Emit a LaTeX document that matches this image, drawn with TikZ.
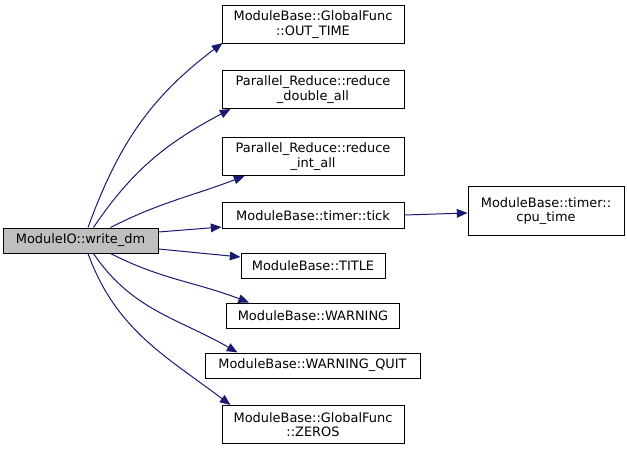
\documentclass[tikz,border=0pt]{standalone}
\usepackage{fontspec}
\setmainfont{DejaVu Sans}
\usetikzlibrary{arrows.meta,calc}
\definecolor{edgeblue}{HTML}{191970}
\definecolor{maingray}{HTML}{BFBFBF}
\tikzset{
  fn/.style={draw=black, line width=0.75pt, fill=white, inner sep=0pt, align=center,
    font=\fontsize{9.7pt}{10.8pt}\selectfont},
  edge/.style={draw=edgeblue, line width=0.75pt, -{Triangle[length=8pt,width=6.5pt]}},
}
\begin{document}
\begin{tikzpicture}[x=0.75pt,y=-0.75pt]
\useasboundingbox (0,0) rectangle (627,452);
\node[fn, fill=maingray, minimum width=155*0.75pt, minimum height=25*0.75pt] (main) at (80.5,240.5) {ModuleIO::write\_dm};
\node[fn, minimum width=182*0.75pt, minimum height=38*0.75pt] (outtime) at (313,24.5) {ModuleBase::GlobalFunc\\::OUT\_TIME};
\node[fn, minimum width=182*0.75pt, minimum height=38*0.75pt] (rdouble) at (313,89.5) {Parallel\_Reduce::reduce\\\_double\_all};
\node[fn, minimum width=182*0.75pt, minimum height=38*0.75pt] (rint) at (313,156.5) {Parallel\_Reduce::reduce\\\_int\_all};
\node[fn, minimum width=182*0.75pt, minimum height=25*0.75pt] (tick) at (313,215.5) {ModuleBase::timer::tick};
\node[fn, minimum width=144*0.75pt, minimum height=25*0.75pt] (title) at (313,265.5) {ModuleBase::TITLE};
\node[fn, minimum width=173*0.75pt, minimum height=25*0.75pt] (warning) at (313,315.5) {ModuleBase::WARNING};
\node[fn, minimum width=215*0.75pt, minimum height=25*0.75pt] (wquit) at (312.5,365.5) {ModuleBase::WARNING\_QUIT};
\node[fn, minimum width=182*0.75pt, minimum height=38*0.75pt] (zeros) at (313,424.5) {ModuleBase::GlobalFunc\\::ZEROS};
\node[fn, minimum width=156*0.75pt, minimum height=48*0.75pt] (cpu) at (546,211) {ModuleBase::timer::\\cpu\_time};
\draw[edge] ($(main.north)+(7.5,0)$) to[out=70, in=217] ($(outtime.south west)+(1,-1)$);
\draw[edge] ($(main.north)+(13,0)$) to[out=56, in=208] ($(rdouble.south west)+(9,0)$);
\draw[edge] ($(main.north)+(30,0)$) to[out=27, in=201] ($(rint.south west)+(23,0)$);
\draw[edge] (main.east |- 0,232) -- (tick.west |- 0,227);
\draw[edge] (main.east |- 0,249) -- (title.west |- 0,257);
\draw[edge] ($(main.south)+(30,0)$) to[out=-27, in=159] ($(warning.north west)+(23,0)$);
\draw[edge] ($(main.south)+(13,0)$) to[out=-56, in=150] ($(wquit.north west)+(33,0)$);
\draw[edge] ($(main.south)+(7.5,0)$) to[out=-70, in=143] ($(zeros.north west)+(9,0)$);
\draw[edge] (tick.east |- 0,215) -- (cpu.west |- 0,213);
\end{tikzpicture}
\end{document}
